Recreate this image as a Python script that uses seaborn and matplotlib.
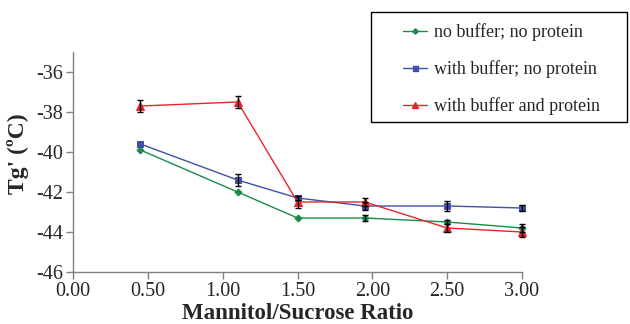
import numpy as np
import pandas as pd
import matplotlib
matplotlib.use("Agg")
import matplotlib.pyplot as plt
from matplotlib.patches import Rectangle
import seaborn as sns

# data
ratio = [0.45, 1.10, 1.50, 1.95, 2.50, 3.00]
no_buffer = [-39.9, -42.0, -43.3, -43.3, -43.5, -43.8]
no_buffer_err = [0.0, 0.0, 0.0, 0.15, 0.1, 0.2]
with_buffer = [-39.6, -41.4, -42.3, -42.7, -42.7, -42.8]
with_buffer_err = [0.0, 0.3, 0.1, 0.2, 0.25, 0.15]
with_protein = [-37.7, -37.5, -42.5, -42.5, -43.8, -44.0]
with_protein_err = [0.3, 0.3, 0.3, 0.2, 0.2, 0.25]

labels = ["no buffer; no protein", "with buffer; no protein", "with buffer and protein"]
colors = ["#1b8a4a", "#3f51a8", "#e8262a"]
markers = ["D", "s", "^"]
msizes = [3.5, 4.5, 5.5]

df = pd.DataFrame({
    "ratio": ratio * 3,
    "tg": no_buffer + with_buffer + with_protein,
    "err": no_buffer_err + with_buffer_err + with_protein_err,
    "series": [labels[0]] * 6 + [labels[1]] * 6 + [labels[2]] * 6,
})

sns.set_style("ticks")
plt.rcParams["font.family"] = ["Liberation Serif", "DejaVu Serif"]
plt.rcParams["axes.unicode_minus"] = False

fig = plt.figure(figsize=(6.3, 3.24), dpi=100)
ax = fig.add_axes([0.1159, 0.1605, 0.7127, 0.679])

for lab, col, mk, ms in zip(labels, colors, markers, msizes):
    sub = df[df["series"] == lab]
    sns.lineplot(data=sub, x="ratio", y="tg", color=col, marker=mk,
                 markersize=ms, markeredgecolor=col, linewidth=1,
                 label=lab, ax=ax, legend=False, clip_on=False, zorder=2)
    eb = sub[sub["err"] > 0]
    ax.errorbar(eb["ratio"], eb["tg"], yerr=eb["err"], fmt="none",
                ecolor="black", elinewidth=1, capsize=2.5, capthick=1,
                clip_on=False, zorder=3)

ax.set_xlim(0, 3)
ax.set_ylim(-46, -35)
ax.set_xticks(np.arange(0, 3.01, 0.5))
ax.set_xticklabels([f"{v:.2f}" for v in np.arange(0, 3.01, 0.5)])
ax.set_yticks(np.arange(-46, -35, 2))
ax.tick_params(labelsize=14.5, length=5, color="#808080", width=1, pad=2)
for side in ["left", "bottom"]:
    ax.spines[side].set_color("#808080")
    ax.spines[side].set_linewidth(1)
sns.despine(ax=ax)

ax.set_xlabel("Mannitol/Sucrose Ratio", fontsize=16.5, fontweight="bold", labelpad=1.5)
ax.set_ylabel("Tg' (ºC)", fontsize=17, fontweight="bold")
ax.yaxis.set_label_coords(-0.098, 0.536)

# legend box
fig.patches.append(Rectangle((371 / 630, 1 - 122 / 324), 256 / 630, 110 / 324,
                             transform=fig.transFigure, fill=False,
                             edgecolor="black", linewidth=1))
handles = [plt.Line2D([], [], color=c, marker=m, markersize=s * 0.8, linewidth=1)
           for c, m, s in zip(colors, markers, msizes)]
fig.legend(handles, labels, loc="upper left", bbox_to_anchor=(403 / 630, 1 - 23.5 / 324),
           frameon=False, fontsize=13, handlelength=1.33, handletextpad=0.4,
           labelspacing=1.05, borderpad=0, borderaxespad=0)

fig.savefig("out.png", dpi=100)
